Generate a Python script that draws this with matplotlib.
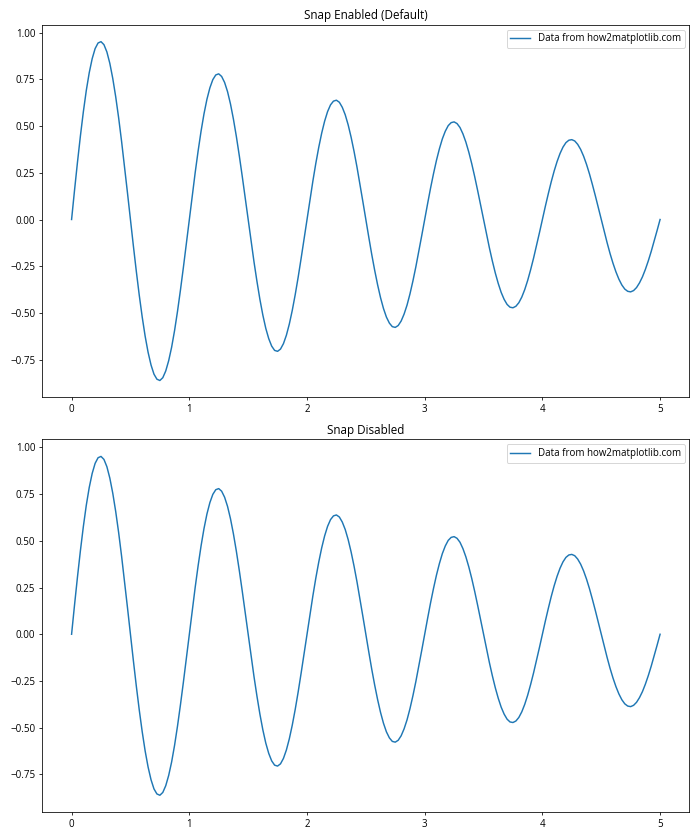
import numpy as np
import matplotlib
matplotlib.use("Agg")
import matplotlib.pyplot as plt

plt.rcParams['font.family'] = ['Open Sans', 'DejaVu Sans']

# 0..5 step 0.025 sample positions
x_vals = np.linspace(0, 5, 201)

# curve values (one row per 0.25 on x)
y_vals = [
    0.000, 0.156, 0.306, 0.447, 0.576, 0.690, 0.785, 0.860, 0.914, 0.944,
    0.951, 0.935, 0.896, 0.835, 0.754, 0.656, 0.543, 0.417, 0.282, 0.142,
    0.000, -0.141, -0.277, -0.405, -0.521, -0.624, -0.710, -0.778, -0.827, -0.854,
    -0.861, -0.846, -0.810, -0.755, -0.683, -0.594, -0.491, -0.377, -0.256, -0.129,
    0.000, 0.127, 0.250, 0.366, 0.472, 0.565, 0.643, 0.704, 0.748, 0.773,
    0.779, 0.765, 0.733, 0.684, 0.618, 0.537, 0.444, 0.341, 0.231, 0.116,
    0.000, -0.115, -0.227, -0.331, -0.427, -0.511, -0.582, -0.637, -0.677, -0.700,
    -0.705, -0.693, -0.664, -0.619, -0.559, -0.486, -0.402, -0.309, -0.209, -0.105,
    0.000, 0.104, 0.205, 0.300, 0.386, 0.462, 0.526, 0.577, 0.613, 0.633,
    0.638, 0.627, 0.600, 0.560, 0.506, 0.440, 0.364, 0.280, 0.189, 0.095,
    0.000, -0.094, -0.186, -0.271, -0.349, -0.418, -0.476, -0.522, -0.554, -0.573,
    -0.577, -0.567, -0.543, -0.506, -0.458, -0.398, -0.329, -0.253, -0.171, -0.086,
    0.000, 0.085, 0.168, 0.245, 0.316, 0.378, 0.431, 0.472, 0.502, 0.518,
    0.522, 0.513, 0.492, 0.458, 0.414, 0.360, 0.298, 0.229, 0.155, 0.078,
    0.000, -0.077, -0.152, -0.222, -0.286, -0.342, -0.390, -0.427, -0.454, -0.469,
    -0.472, -0.464, -0.445, -0.415, -0.375, -0.326, -0.269, -0.207, -0.140, -0.071,
    0.000, 0.070, 0.137, 0.201, 0.259, 0.310, 0.353, 0.387, 0.411, 0.424,
    0.427, 0.420, 0.402, 0.375, 0.339, 0.295, 0.244, 0.187, 0.127, 0.064,
    0.000, -0.063, -0.124, -0.182, -0.234, -0.280, -0.319, -0.350, -0.372, -0.384,
    -0.387, -0.380, -0.364, -0.339, -0.307, -0.267, -0.221, -0.170, -0.115, -0.058,
    0.000,
]

titles = ["Snap Enabled (Default)", "Snap Disabled"]
snaps = [None, False]
label = "Data from how2matplotlib.com"

fig, axes = plt.subplots(2, 1, figsize=(10, 12))
for ax, title, snap in zip(axes, titles, snaps):
    ax.plot(x_vals, y_vals, label=label, snap=snap)
    ax.set_title(title)
    ax.legend(loc="upper right")

plt.tight_layout()
plt.savefig("out.png", dpi=70)
plt.close()
